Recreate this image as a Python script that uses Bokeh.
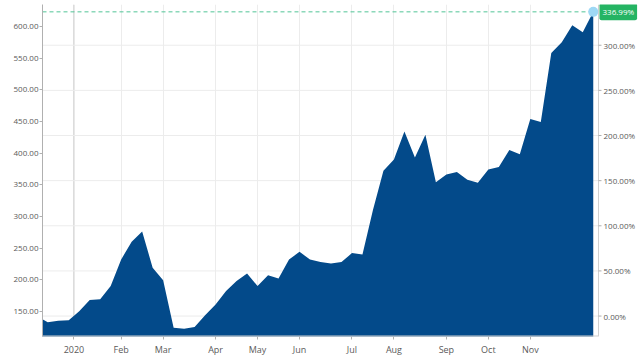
from datetime import date, timedelta
import numpy as np
from bokeh.plotting import figure
from bokeh.models import (Range1d, FixedTicker, NumeralTickFormatter, Span, Label)
from bokeh.core.properties import value
from bokeh.embed import file_html
from bokeh.resources import INLINE

# ---- data (weekly closes) ----
first_week = date(2019, 12, 9)
values = [142, 133, 135, 136, 150, 168, 169, 190, 232, 260, 276, 219, 199, 124,
          122.5, 125.5, 144, 161, 182, 198, 210, 190, 207, 202, 232, 244, 232,
          228, 225.5, 228, 242, 240, 310, 372, 390, 434, 393, 429, 354, 366, 370,
          358, 353, 374, 378, 405, 398, 454, 449, 558, 575, 602, 591, 623.1]
last_pct = 336.99
left_ticks = [150, 200, 250, 300, 350, 400, 450, 500, 550, 600]
pct_ticks = [0, 50, 100, 150, 200, 250, 300]
month_names = ["Feb", "Mar", "Apr", "May", "Jun", "Jul", "Aug", "Sep", "Oct", "Nov"]
year_label = "2020"

weeks = [first_week + timedelta(days=7 * k) for k in range(len(values))]
xs = np.arange(len(values)) - 1  # first week sits just left of the frame

overrides = {}
ticks = []
last19 = max(i for i, d in zip(xs, weeks) if d.year == 2019)
ticks.append(float(last19) + 0.5)
overrides[float(last19) + 0.5] = year_label
for m, name in zip(range(2, 12), month_names):
    i = min(i for i, d in zip(xs, weeks) if d.year == 2020 and d.month == m)
    ticks.append(float(i))
    overrides[float(i)] = name

base = values[-1] / (1 + last_pct / 100)
y0, y1 = 110.3, 634.7
xl, xr = -0.5, len(values) - 1.5          # data area edges
PLOT_W, RIGHT_PAD = 556, 42               # data area width, right gutter (px)
unit = (xr - xl) / PLOT_W                 # x units per pixel
x_end = xr + RIGHT_PAD * unit

FONT = "Open Sans"
GREY = "#5a5a5a"
AXIS_C = "#d0d0d0"

p = figure(width=640, height=358, output_backend="svg", toolbar_location=None,
           x_range=Range1d(xl, x_end), y_range=Range1d(y0, y1),
           min_border_left=42, min_border_right=0, min_border_top=4,
           min_border_bottom=21)
p.outline_line_color = None
p.background_fill_color = "white"
p.border_fill_color = "white"

pct_pos = [base * (1 + t / 100) for t in pct_ticks]

# horizontal grid (right-axis ticks), limited to the data area
p.segment(x0=[xl] * len(pct_pos), x1=[xr] * len(pct_pos), y0=pct_pos, y1=pct_pos,
          line_color="#ececec", line_width=1)
p.ygrid.visible = False
p.xgrid.ticker = FixedTicker(ticks=ticks)
p.xgrid.grid_line_color = "#ececec"
p.add_layout(Span(location=ticks[0], dimension="height", line_color="#cfcfcf",
                  line_width=1, level="underlay"))

# area
p.varea(x=xs, y1=0, y2=values, fill_color="#034a8a", fill_alpha=1.0)

# left axis
la = p.yaxis[0]
la.ticker = FixedTicker(ticks=left_ticks)
la.formatter = NumeralTickFormatter(format="0.00")
la.axis_line_color = "#b0b0b0"
la.major_tick_line_color = "#b0b0b0"
la.major_tick_out = 3
la.major_tick_in = 0
la.minor_tick_line_color = None
la.major_label_standoff = 1
la.major_label_text_font = FONT
la.major_label_text_font_size = "8px"
la.major_label_text_color = GREY

# bottom axis
xa = p.xaxis[0]
xa.ticker = FixedTicker(ticks=ticks)
xa.major_label_overrides = overrides
xa.axis_line_color = None
xa.major_tick_line_color = "#b0b0b0"
xa.major_tick_out = 3
xa.major_tick_in = 0
xa.minor_tick_line_color = None
xa.major_label_standoff = 3
xa.major_label_text_font = FONT
xa.major_label_text_font_size = "9px"
xa.major_label_text_color = GREY
p.segment(x0=[xl], x1=[xr], y0=[y0], y1=[y0], line_color=AXIS_C, line_width=2)

# right (percentage) axis drawn on the pct scale
p.segment(x0=[xr], x1=[xr], y0=[y0], y1=[y1], line_color=AXIS_C, line_width=1)
p.segment(x0=[xr] * len(pct_pos), x1=[xr + 3 * unit] * len(pct_pos),
          y0=pct_pos, y1=pct_pos, line_color="#b0b0b0", line_width=1)
p.text(x=[xr + 5 * unit] * len(pct_pos), y=pct_pos,
       text=[f"{t:.2f}%" for t in pct_ticks], text_align="left",
       text_baseline="middle", text_font=value(FONT), text_font_size="8px",
       text_color=GREY)

# last value marker, dashed line and badge
p.segment(x0=[xl], x1=[xs[-1]], y0=[values[-1]], y1=[values[-1]],
          line_color="#52c496", line_dash="4 3", line_width=1)
p.scatter([xs[-1]], [values[-1]], size=10, fill_color="#9ed8f5", line_color=None)
p.add_layout(Label(x=xr, y=values[-1], text=f"{last_pct:.2f}%",
                   x_offset=1, text_align="left", text_baseline="middle",
                   text_font=FONT, text_font_size="8px", text_color="white",
                   background_fill_color="#25b463", padding=3, border_radius=2))

open("out.html", "w").write(file_html(p, INLINE))
